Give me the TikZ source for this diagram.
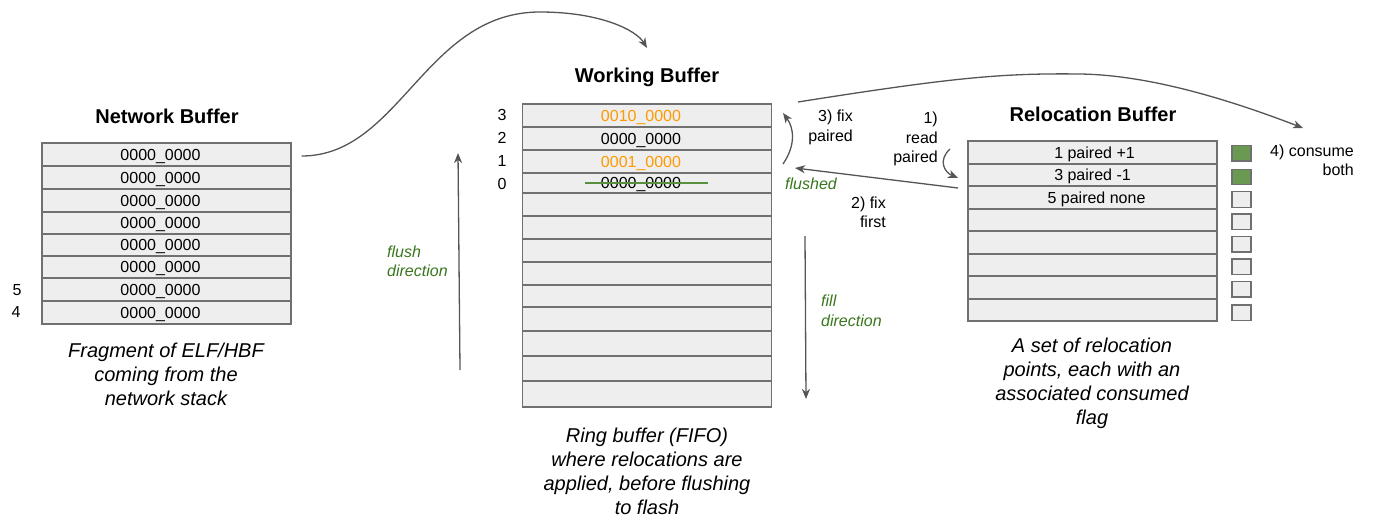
\documentclass[tikz,border=0pt]{standalone}
\usepackage{fontspec}
\setmainfont{Liberation Sans}
\usetikzlibrary{arrows.meta}
\definecolor{cellfill}{RGB}{238,238,238}
\definecolor{celldraw}{RGB}{112,112,112}
\definecolor{arrowgray}{RGB}{85,85,85}
\definecolor{txtorange}{RGB}{255,153,0}
\definecolor{txtgreen}{RGB}{56,118,29}
\definecolor{linegreen}{RGB}{88,145,60}
\definecolor{flaggreen}{RGB}{106,154,82}
\newcommand{\celltxt}[1]{#1\hspace*{12pt}}
\begin{document}
\begin{tikzpicture}[x=1pt,y=-1pt,
  cell/.style={draw=celldraw,fill=cellfill,line width=1.3pt,minimum width=249pt,inner sep=0pt,text height=11.4pt,text depth=0pt,font=\fontsize{16}{19}\selectfont},
  flag/.style={draw=celldraw,fill=cellfill,line width=1.3pt,minimum width=19pt,minimum height=15.5pt,inner sep=0pt},
  flagon/.style={flag,fill=flaggreen},
  title/.style={font=\fontsize{20}{24}\selectfont\bfseries},
  caption/.style={font=\fontsize{20}{24}\selectfont\itshape,align=center},
  small/.style={font=\fontsize{16}{19.5}\selectfont},
  note/.style={font=\fontsize{16}{19.5}\selectfont\itshape,text=txtgreen,align=left},
  conn/.style={draw=arrowgray,line width=1.3pt,-{Stealth[length=10pt,width=8pt,inset=3pt]}}
]
\useasboundingbox (0,0) rectangle (1373,522);

% ---------- Network buffer ----------
\node[title] (ntitle) at (167,116) {Network Buffer};
\node[cell,minimum height=23pt] (n1) at (166.5,154.5) {\celltxt{0000\_0000}};
\node[cell,minimum height=23pt] (n2) at (166.5,177.5) {\celltxt{0000\_0000}};
\node[cell,minimum height=23pt] (n3) at (166.5,200.5) {\celltxt{0000\_0000}};
\node[cell,minimum height=22pt] (n4) at (166.5,223) {\celltxt{0000\_0000}};
\node[cell,minimum height=22pt] (n5) at (166.5,245) {\celltxt{0000\_0000}};
\node[cell,minimum height=22pt] (n6) at (166.5,267) {\celltxt{0000\_0000}};
\node[cell,minimum height=23pt] (n7) at (166.5,289.5) {\celltxt{0000\_0000}};
\node[cell,minimum height=23pt] (n8) at (166.5,312.5) {\celltxt{0000\_0000}};
\node[small] (nl5) at (17,290) {5};
\node[small] (nl4) at (16,312) {4};
\node[caption] (ncap) at (166,374) {Fragment of ELF/HBF\\coming from the\\network stack};

% ---------- Working buffer ----------
\node[title] (wtitle) at (647,77) {Working Buffer};
\node[cell,minimum height=23pt,text=txtorange] (w1) at (647,115.5) {\celltxt{0010\_0000}};
\node[cell,minimum height=23pt] (w2) at (647,138.5) {\celltxt{0000\_0000}};
\node[cell,minimum height=23pt,text=txtorange] (w3) at (647,161.5) {\celltxt{0001\_0000}};
\node[cell,minimum height=20pt] (w4) at (647,183) {\celltxt{0000\_0000}};
\node[cell,minimum height=23pt] (w5) at (647,204.5) {};
\node[cell,minimum height=23pt] (w6) at (647,227.5) {};
\node[cell,minimum height=23pt] (w7) at (647,250.5) {};
\node[cell,minimum height=23pt] (w8) at (647,273.5) {};
\node[cell,minimum height=22pt] (w9) at (647,296) {};
\node[cell,minimum height=24pt] (w10) at (647,319) {};
\node[cell,minimum height=25pt] (w11) at (647,343.5) {};
\node[cell,minimum height=25pt] (w12) at (647,368.5) {};
\node[cell,minimum height=26pt] (w13) at (647,394) {};
\draw[linegreen,line width=1.3pt] ([xshift=-62pt]w4.center) -- ([xshift=61pt]w4.center);
\node[small] (wl3) at (502,115) {3};
\node[small] (wl2) at (502,138) {2};
\node[small] (wl1) at (502,161) {1};
\node[small] (wl0) at (502,184) {0};
\node[caption] (wcap) at (647,471) {Ring buffer (FIFO)\\where relocations are\\applied, before flushing\\to flash};

% ---------- Relocation buffer ----------
\node[title] (rtitle) at (1093,114) {Relocation Buffer};
\node[cell,minimum height=23pt] (r1) at (1092.5,152.5) {\hspace*{4pt}1 paired +1};
\node[cell,minimum height=22pt] (r2) at (1092.5,175) {3 paired -1};
\node[cell,minimum height=23pt] (r3) at (1092.5,197.5) {\hspace*{8pt}5 paired none};
\node[cell,minimum height=22pt] (r4) at (1092.5,220) {};
\node[cell,minimum height=23pt] (r5) at (1092.5,242.5) {};
\node[cell,minimum height=22pt] (r6) at (1092.5,265) {};
\node[cell,minimum height=23pt] (r7) at (1092.5,287.5) {};
\node[cell,minimum height=22pt] (r8) at (1092.5,310) {};
\node[flagon] (f1) at (1241.5,153.3) {};
\node[flagon] (f2) at (1241.5,177) {};
\node[flag] (f3) at (1241.5,199.5) {};
\node[flag] (f4) at (1241.5,221.7) {};
\node[flag] (f5) at (1241.5,244.2) {};
\node[flag] (f6) at (1241.5,266.7) {};
\node[flag] (f7) at (1241.5,289.2) {};
\node[flag] (f8) at (1241.5,312.8) {};
\node[caption] (rcap) at (1092,383.5) {A set of relocation\\points, each with an\\associated consumed\\flag};

% ---------- labels ----------
\node[small,align=right,anchor=east,inner sep=0pt] (lread) at (938,139) {1)\\read\\paired};
\node[small,align=right,anchor=east,inner sep=0pt] (lfix1) at (886,212.5) {2) fix\\first};
\node[small,align=right,anchor=east,inner sep=0pt] (lfix3) at (853,127.5) {3) fix\\paired};
\node[small,align=right,anchor=east,inner sep=0pt] (lcons) at (1354,160.5) {4) consume\\both};
\node[note,anchor=west,inner sep=0pt] (lflush) at (387,261.5) {flush\\direction};
\node[note,anchor=west,inner sep=0pt] (lfill) at (821,311) {fill\\direction};
\node[note,anchor=west,inner sep=0pt] (lflushed) at (785,184) {flushed};

% ---------- connectors ----------
\coordinate (a0) at ([xshift=10pt,yshift=-1.5pt]n1.east);
\coordinate (a1) at (647,48);
\draw[conn] (a0) .. controls (400,156) and (425,12) .. (540,12) .. controls (600,12) and (636,30) .. (a1);

\coordinate (fl0) at (460,370);
\coordinate (fl1) at (458,153);
\draw[conn] (fl0) -- (fl1);

\coordinate (fi0) at (805,236);
\coordinate (fi1) at (806,399);
\draw[conn] (fi0) -- (fi1);

\coordinate (b0) at (950,149);
\coordinate (b1) at (958,178);
\draw[conn] (b0) .. controls (938,160) and (944,172) .. (b1);

\coordinate (c0) at (958,188);
\coordinate (c1) at (795,168);
\draw[conn] (c0) -- (c1);

\coordinate (d0) at (783,164);
\coordinate (d1) at (783,113);
\draw[conn] (d0) .. controls (796,145) and (794,128) .. (d1);

\coordinate (e0) at (798,102);
\coordinate (e1) at (1303,128);
\draw[conn] (e0) .. controls (950,78) and (1000,73) .. (1080,74) .. controls (1150,75) and (1230,100) .. (e1);
\end{tikzpicture}
\end{document}
